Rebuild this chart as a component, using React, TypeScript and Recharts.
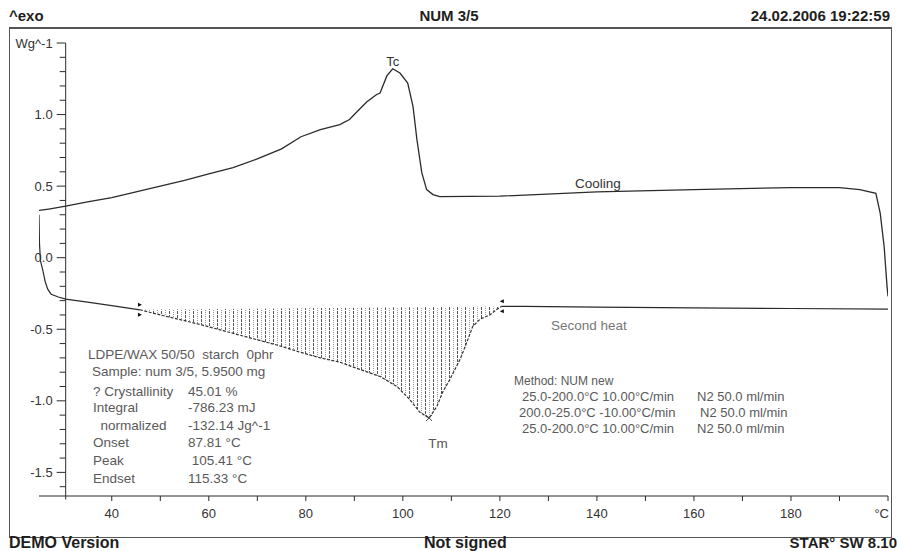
import { ComposedChart, Line, Area, XAxis, YAxis, ReferenceLine, ReferenceDot } from "recharts"

// cooling run 200 -> 25 °C, listed by rising temperature
const coolTemp = [25, 27, 30.5, 35, 40, 45, 50, 55, 60, 65, 70, 75, 79, 83, 87, 89, 91, 92.6, 94.6, 95.3, 96.7, 97.9, 99.4, 101, 102.1, 102.9, 103.9, 104.9, 106.2, 107.6, 120, 140, 160, 180, 190, 194.2, 197.5, 198.4, 199.2, 199.8, 200]
const coolSignal = [0.33, 0.34, 0.36, 0.39, 0.42, 0.46, 0.5, 0.54, 0.585, 0.63, 0.69, 0.76, 0.845, 0.895, 0.93, 0.965, 1.035, 1.09, 1.14, 1.15, 1.27, 1.32, 1.29, 1.22, 1.055, 0.825, 0.594, 0.476, 0.441, 0.427, 0.43, 0.46, 0.475, 0.49, 0.49, 0.475, 0.45, 0.31, 0.08, -0.2, -0.27]

// second heating run 25 -> 200 °C
const heatTemp = [25, 25.1, 25.3, 25.8, 26.3, 26.8, 27.5, 29, 30.5, 35, 40, 45.8, 50, 55, 58, 63, 68.5, 74, 78.8, 83, 87, 91.1, 95.3, 98.8, 101.4, 103.5, 105.4, 107, 108.2, 109.7, 111.8, 113.2, 114.4, 115.9, 117.9, 119.4, 120.4, 125, 140, 160, 180, 200]
const heatSignal = [0.3, 0.1, -0.02, -0.09, -0.17, -0.22, -0.255, -0.275, -0.29, -0.31, -0.335, -0.364, -0.4, -0.44, -0.465, -0.51, -0.56, -0.61, -0.66, -0.7, -0.73, -0.78, -0.83, -0.9, -0.99, -1.08, -1.12, -1.04, -0.94, -0.85, -0.71, -0.59, -0.48, -0.43, -0.4, -0.36, -0.34, -0.34, -0.345, -0.35, -0.355, -0.36]

// integration limits of the melting peak, °C
const meltLimits = [45.8, 120.4]
const tcPeak = [97.9, 1.32]
const tmPeak = [105.4, -1.12]

const xTicks = [40, 50, 60, 70, 80, 90, 100, 110, 120, 130, 140, 150, 160, 170, 180, 190, 200]
const xLabels: Record<number, string> = { 40: "40", 60: "60", 80: "80", 100: "100", 120: "120", 140: "140", 160: "160", 180: "180", 200: "°C" }
const yLabels: Record<string, string> = { "-1.5": "-1.5", "-1": "-1.0", "-0.5": "-0.5", "0": "0.0", "0.5": "0.5", "1": "1.0", "1.5": "Wg^-1" }

const sampleRows = [
  ["? Crystallinity", "45.01 %"],
  ["Integral", "-786.23 mJ"],
  ["  normalized", "-132.14 Jg^-1"],
  ["Onset", "87.81 °C"],
  ["Peak", " 105.41 °C"],
  ["Endset", "115.33 °C"],
]
const methodRows = [
  ["25.0-200.0°C 10.00°C/min", "N2 50.0 ml/min"],
  ["200.0-25.0°C -10.00°C/min", "N2 50.0 ml/min"],
  ["25.0-200.0°C 10.00°C/min", "N2 50.0 ml/min"],
]

const W = 899
const H = 551
const X_AXIS_H = 30
const Y_AXIS_W = 1
// plot area: x 39..888, y 43..496
const M = { top: 43, right: 11, bottom: 55 - X_AXIS_H, left: 39 - Y_AXIS_W }
const X_DOMAIN: [number, number] = [25, 200]
const Y_DOMAIN: [number, number] = [-1.665, 1.5]
const Y_AXIS_AT = 30.5
const Y_SHIFT = ((Y_AXIS_AT - X_DOMAIN[0]) / (X_DOMAIN[1] - X_DOMAIN[0])) * (W - 39 - M.right)
const yTicks = Array.from({ length: 32 }, (_, i) => Math.round((-1.6 + i * 0.1) * 10) / 10)

const FONT = "'Liberation Sans', Arial, sans-serif"
const INK = "#2b2b2b"

const cooling = coolTemp.map((t, i) => ({ t, v: coolSignal[i] }))
const heating = heatTemp.map((t, i) => ({ t, v: heatSignal[i] }))
const i0 = heatTemp.indexOf(meltLimits[0])
const i1 = heatTemp.indexOf(meltLimits[1])
const b0 = heatSignal[i0]
const b1 = heatSignal[i1]
// straight integration baseline between the two limits
const baseAt = (t: number) => b0 + ((t - meltLimits[0]) / (meltLimits[1] - meltLimits[0])) * (b1 - b0)
const heatStart = heating.slice(0, i0 + 1)
const heatMelt = heating.slice(i0, i1 + 1)
const heatEnd = heating.slice(i1)
const meltBand = heatMelt.map((d) => ({ t: d.t, band: [d.v, baseAt(d.t)] }))

function XTick({ x, y, payload }: any) {
  const label = xLabels[payload.value]
  const last = payload.value === 200
  return (
    <g>
      <line x1={x} x2={x} y1={y} y2={y + 5} stroke={INK} />
      {label && (
        <text x={last ? x + 1 : x} y={y + 22} textAnchor={last ? "end" : "middle"} fontSize={13} fontFamily={FONT} fill="#333">
          {label}
        </text>
      )}
    </g>
  )
}

function YTick({ x, y, payload }: any) {
  const label = yLabels[String(payload.value)]
  const ax = x + Y_SHIFT
  return (
    <g>
      <line x1={ax - (label ? 9 : 6)} x2={ax} y1={y} y2={y} stroke={INK} />
      {label && (
        <text x={ax - 13} y={y + 4.5} textAnchor="end" fontSize={13} fontFamily={FONT} fill="#333">
          {label}
        </text>
      )}
    </g>
  )
}

function LimitMark({ cx, cy, dir }: any) {
  const s = dir
  return (
    <g fill="#111">
      <path d={`M${cx - 2 * s},${cy - 7} L${cx + 2 * s},${cy - 5} L${cx - 2 * s},${cy - 3} Z`} />
      <path d={`M${cx - 2 * s},${cy + 3} L${cx + 2 * s},${cy + 5} L${cx - 2 * s},${cy + 7} Z`} />
    </g>
  )
}

// peak marker with its name underneath
function PeakCross({ cx, cy }: any) {
  return (
    <g>
      <g stroke="#444" strokeWidth={1}>
        <line x1={cx - 3} y1={cy - 3} x2={cx + 3} y2={cy + 3} />
        <line x1={cx - 3} y1={cy + 3} x2={cx + 3} y2={cy - 3} />
      </g>
      <text x={cx + 9} y={cy + 30} textAnchor="middle" fontSize={13.5} fontFamily={FONT} fill="#555">
        Tm
      </text>
    </g>
  )
}

const txt = (left: number, top: number, s: string, extra: any = {}) => (
  <span style={{ position: "absolute", left, top: top - 8, lineHeight: "16px", whiteSpace: "pre", ...extra }}>{s}</span>
)

const bold = { fontWeight: "bold", color: "#1e1e1e" }

export default function App() {
  return (
    <div style={{ position: "absolute", left: 0, top: 0, width: W, height: H, background: "#fff", fontFamily: FONT, overflow: "hidden" }}>
      <div style={{ position: "absolute", left: 9, top: 27, width: 881, height: 508, border: "1px solid #555", borderTopWidth: 2 }} />
      <ComposedChart width={W} height={H} margin={M} style={{ position: "absolute", left: 0, top: 0 }}>
        <defs>
          <pattern id="hatch" patternUnits="userSpaceOnUse" width={8} height={4}>
            <line x1={1.5} x2={1.5} y1={0} y2={4} stroke="#555" strokeDasharray="2 1" />
            <line x1={5.5} x2={5.5} y1={0} y2={4} stroke="#999" strokeDasharray="1 1" />
          </pattern>
        </defs>
        <XAxis type="number" dataKey="t" domain={X_DOMAIN} ticks={xTicks} interval={0} height={X_AXIS_H} tickSize={0} tickMargin={0} tick={<XTick />} tickLine={false} axisLine={{ stroke: INK }} allowDataOverflow />
        <YAxis type="number" domain={Y_DOMAIN} ticks={yTicks} interval={0} width={Y_AXIS_W} tickSize={0} tickMargin={0} tick={<YTick />} tickLine={false} axisLine={false} allowDataOverflow />
        <ReferenceLine segment={[{ x: Y_AXIS_AT, y: -1.69 }, { x: Y_AXIS_AT, y: 1.5 }]} stroke={INK} ifOverflow="visible" />
        <Area data={meltBand} dataKey="band" type="linear" fill="url(#hatch)" fillOpacity={1} stroke="none" isAnimationActive={false} />
        <Line data={cooling} dataKey="v" type="linear" stroke={INK} strokeWidth={1.3} dot={false} isAnimationActive={false} />
        <Line data={heatStart} dataKey="v" type="linear" stroke={INK} strokeWidth={1.2} dot={false} isAnimationActive={false} />
        <Line data={heatMelt} dataKey="v" type="linear" stroke="#333" strokeWidth={1.2} strokeDasharray="3 1.5" dot={false} isAnimationActive={false} />
        <Line data={heatEnd} dataKey="v" type="linear" stroke={INK} strokeWidth={1.2} dot={false} isAnimationActive={false} />
        <ReferenceDot x={tcPeak[0]} y={tcPeak[1]} r={0} label={{ value: "Tc", position: "top", offset: 3, fontSize: 13, fill: "#333", fontFamily: FONT }} />
        <ReferenceDot x={tmPeak[0]} y={tmPeak[1]} shape={<PeakCross />} />
        <ReferenceDot x={meltLimits[0]} y={b0} shape={<LimitMark dir={1} />} />
        <ReferenceDot x={meltLimits[1]} y={b1} shape={<LimitMark dir={-1} />} />
      </ComposedChart>

      {txt(9, 16, "^exo", { ...bold, fontSize: 15 })}
      {txt(0, 16, "NUM 3/5", { ...bold, width: 898, textAlign: "center", fontSize: 15 })}
      {txt(0, 16, "24.02.2006 19:22:59", { ...bold, width: 890, textAlign: "right", fontSize: 15 })}

      {txt(9, 543, "DEMO Version", { ...bold, fontSize: 16 })}
      {txt(424, 543, "Not signed", { ...bold, fontSize: 16 })}
      {txt(0, 543, "STAR° SW 8.10", { ...bold, width: 897, textAlign: "right", fontSize: 15 })}

      {txt(575, 184, "Cooling", { fontSize: 13.5, color: "#333" })}
      {txt(551, 326, "Second heat", { fontSize: 13.5, color: "#777" })}

      <div style={{ fontSize: 13.5, color: "#5a5a5a" }}>
        {txt(88, 355, "LDPE/WAX 50/50  starch  0phr")}
        {txt(92, 372, "Sample: num 3/5, 5.9500 mg")}
        {sampleRows.map(([k, v], i) => (
          <span key={k}>
            {txt(93, [392, 408, 426, 443, 461, 479][i], k)}
            {txt(188, [392, 408, 426, 443, 461, 479][i], v)}
          </span>
        ))}
      </div>
      <div style={{ fontSize: 13, color: "#5a5a5a" }}>
        {txt(514, 381, "Method: NUM new", { fontSize: 12 })}
        {methodRows.map(([a, b], i) => (
          <span key={i}>
            {txt(i === 1 ? 519 : 522, 397 + i * 16, a)}
            {txt(i === 1 ? 700 : 697, 397 + i * 16, b)}
          </span>
        ))}
      </div>
    </div>
  )
}
